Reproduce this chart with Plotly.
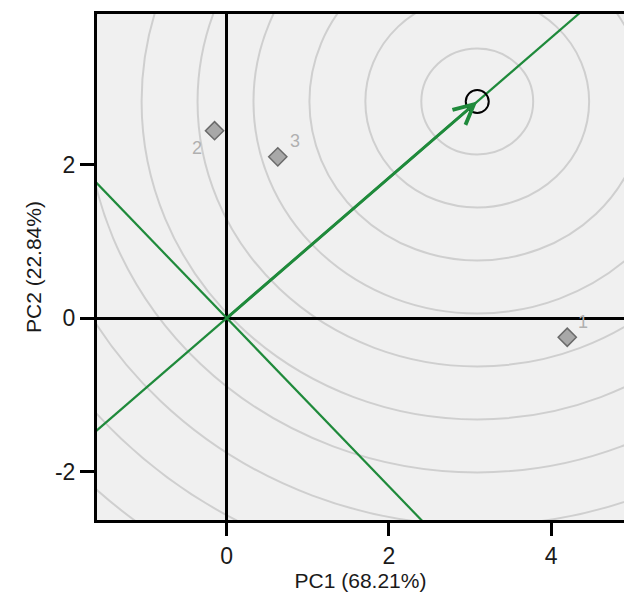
import numpy as np
import plotly.graph_objects as go

# ---- data ----
sample_labels = ["1", "2", "3"]
pc1 = [4.20, -0.15, 0.63]
pc2 = [-0.25, 2.44, 2.10]
ideal_point = [3.09, 2.82]          # vector end / contour centre
ring_step = 0.69                    # spacing of concentric contour rings
n_rings = 12
x_range = [-1.60, 4.90]
y_range = [-2.63, 3.96]
x_ticks = [0, 2, 4]
x_ticklabels = ["0", "2", "4"]
y_ticks = [-2, 0, 2]
y_ticklabels = ["-2", "0", "2"]
x_title = "PC1 (68.21%)"
y_title = "PC2 (22.84%)"

GREEN = "#1f8a3b"
FONT = "Arial, Liberation Sans, sans-serif"
TXT = "#1a1a1a"

fig = go.Figure()

# concentric rings around the ideal point
cx, cy = ideal_point
shapes = []
for k in range(1, n_rings + 1):
    r = ring_step * k
    shapes.append(dict(type="circle", xref="x", yref="y",
                       x0=cx - r, x1=cx + r, y0=cy - r, y1=cy + r,
                       line=dict(color="#cfcfcf", width=2), layer="below"))

# direction line and perpendicular through origin
ux, uy = np.array(ideal_point) / np.hypot(*ideal_point)
T = 20
fig.add_trace(go.Scatter(x=[-T * ux, T * ux], y=[-T * uy, T * uy], mode="lines",
                         line=dict(color=GREEN, width=2.2), hoverinfo="skip", showlegend=False))
fig.add_trace(go.Scatter(x=[T * uy, -T * uy], y=[-T * ux, T * ux], mode="lines",
                         line=dict(color=GREEN, width=2.2), hoverinfo="skip", showlegend=False))

# sample points
fig.add_trace(go.Scatter(x=pc1, y=pc2, mode="markers",
                         marker=dict(symbol="diamond", size=14, color="#a8a8a8",
                                     line=dict(color="#6a6a6a", width=1.5)),
                         showlegend=False))

# ideal point circle
fig.add_trace(go.Scatter(x=[cx], y=[cy], mode="markers",
                         marker=dict(symbol="circle-open", size=23, color="black",
                                     line=dict(color="black", width=2)),
                         showlegend=False))

annotations = []
# arrow from origin to ideal point
annotations.append(dict(x=cx, y=cy, ax=0, ay=0, xref="x", yref="y", axref="x", ayref="y",
                        showarrow=True, arrowhead=5, arrowsize=1.3, arrowwidth=3,
                        arrowcolor=GREEN, text=""))
# point labels
offsets = {"1": (16, 15), "2": (-18, -17), "3": (17, 16)}
for lab, x, y in zip(sample_labels, pc1, pc2):
    dx, dy = offsets[lab]
    annotations.append(dict(x=x, y=y, xref="x", yref="y", text=lab, showarrow=False,
                            xshift=dx, yshift=dy,
                            font=dict(family=FONT, size=18, color="#b0b0b0")))

fig.update_layout(
    width=624, height=597,
    margin=dict(l=97, r=0, t=14, b=77),
    paper_bgcolor="white", plot_bgcolor="#f0f0f0",
    shapes=shapes, annotations=annotations,
    font=dict(family=FONT, color=TXT),
    xaxis=dict(range=x_range, tickvals=x_ticks, ticktext=x_ticklabels, showgrid=False,
               zeroline=True, zerolinecolor="black", zerolinewidth=2.5,
               showline=True, linecolor="black", linewidth=3, mirror=True,
               ticks="outside", ticklen=13, tickwidth=2.5, tickcolor="black",
               tickfont=dict(size=23, family=FONT, color=TXT),
               title=dict(text=x_title, font=dict(size=21, family=FONT, color=TXT),
                          standoff=0)),
    yaxis=dict(range=y_range, tickvals=y_ticks, ticktext=y_ticklabels, showgrid=False,
               zeroline=True, zerolinecolor="black", zerolinewidth=2.5,
               showline=True, linecolor="black", linewidth=3,
               ticks="outside", ticklen=14, tickwidth=2.5, tickcolor="black",
               tickfont=dict(size=23, family=FONT, color=TXT),
               title=dict(text=y_title, font=dict(size=21, family=FONT, color=TXT),
                          standoff=8)),
)

fig.write_html("out.html")
